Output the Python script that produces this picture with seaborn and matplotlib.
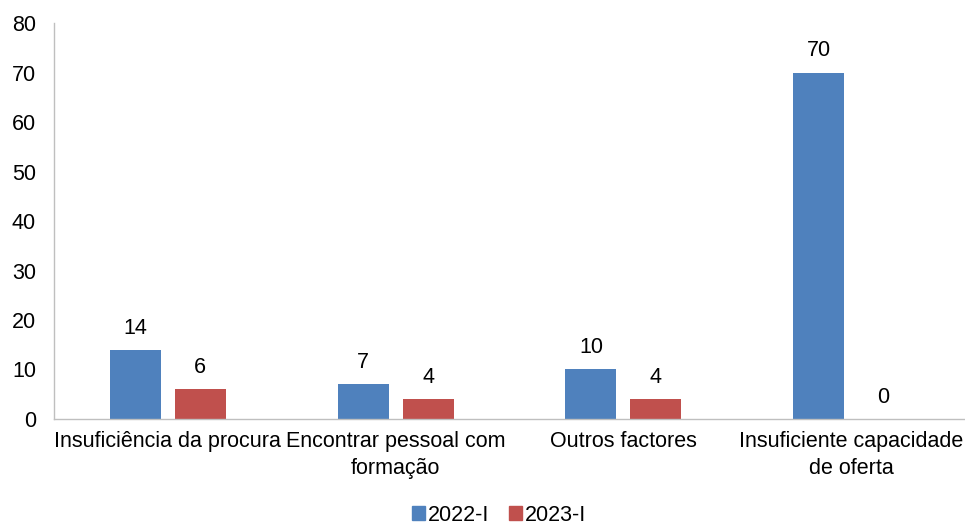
import matplotlib
matplotlib.use("Agg")
import matplotlib.pyplot as plt
import seaborn as sns
import pandas as pd

categories = ["Insuficiência da procura", "Encontrar pessoal com\nformação",
              "Outros factores", "Insuficiente capacidade\nde oferta"]
series_names = ["2022-I", "2023-I"]
values_2022 = [14, 7, 10, 70]
values_2023 = [6, 4, 4, 0]
colors = ["#4F81BD", "#C0504D"]

df = pd.DataFrame({
    "cat": categories * 2,
    "serie": [series_names[0]] * 4 + [series_names[1]] * 4,
    "val": values_2022 + values_2023,
})

sns.set_style("white")
plt.rcParams["font.family"] = ["Liberation Sans", "DejaVu Sans"]
plt.rcParams["text.color"] = "black"
plt.rcParams["xtick.color"] = "black"
plt.rcParams["ytick.color"] = "black"

fig = plt.figure(figsize=(9.65, 5.24), dpi=100)
ax = fig.add_axes([0.056, 0.2004, 0.944, 0.7556])
sns.barplot(data=df, x="cat", y="val", hue="serie", palette=colors,
            width=0.57, gap=0.215, ax=ax, saturation=1, linewidth=0)

for cont in ax.containers:
    ax.bar_label(cont, fmt="%g", padding=8, fontsize=15.5, color="black")

ax.set_ylim(0, 80)
ax.set_yticks(range(0, 81, 10))
ax.set_xlabel("")
ax.set_ylabel("")
ax.tick_params(axis="both", length=0, labelsize=15.5, labelcolor="black")
ax.tick_params(axis="x", pad=9)
ax.tick_params(axis="y", pad=13)
for lbl in ax.get_xticklabels():
    lbl.set_linespacing(1.35)
for s in ["top", "right"]:
    ax.spines[s].set_visible(False)
for s in ["left", "bottom"]:
    ax.spines[s].set_color("#BFBFBF")
    ax.spines[s].set_linewidth(1)

ax.legend_.remove()
from matplotlib.patches import Patch
handles = [Patch(color=c) for c in colors]
fig.legend(handles, series_names, loc="lower center", bbox_to_anchor=(0.517, -0.04),
           ncol=2, frameon=False, fontsize=15.5, handlelength=0.6, handleheight=0.6,
           handletextpad=0.15, columnspacing=0.9, labelcolor="black")

fig.savefig("out.png", dpi=100)
